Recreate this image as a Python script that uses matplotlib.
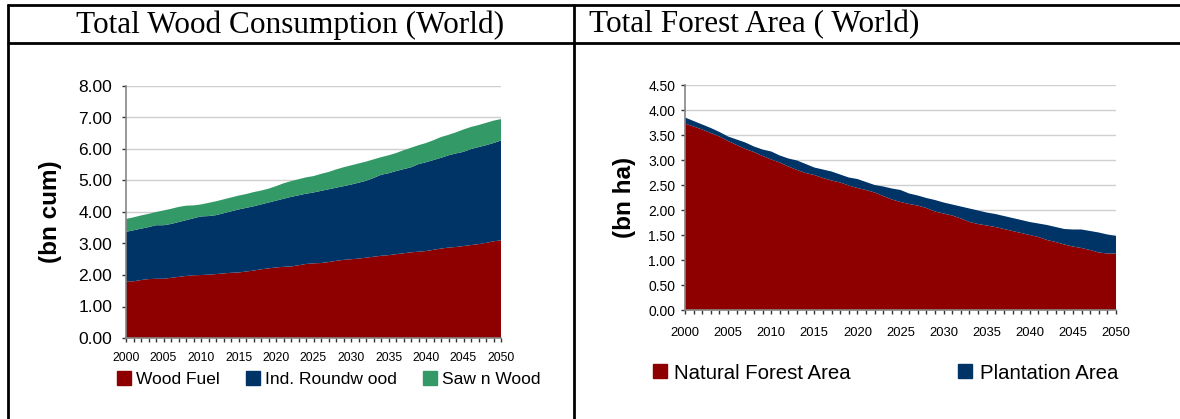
import matplotlib
matplotlib.use("Agg")
import matplotlib.pyplot as plt
from matplotlib.lines import Line2D
import numpy as np

years = list(range(2000, 2051))

# world wood consumption, bn cum
wood_fuel = [1.80, 1.80, 1.84, 1.87, 1.88, 1.88, 1.91, 1.94, 1.97, 1.99,
             2.00, 2.01, 2.03, 2.05, 2.07, 2.08, 2.11, 2.14, 2.18, 2.21,
             2.24, 2.26, 2.27, 2.31, 2.35, 2.37, 2.38, 2.41, 2.45, 2.48,
             2.50, 2.52, 2.55, 2.58, 2.61, 2.63, 2.66, 2.69, 2.72, 2.74,
             2.76, 2.80, 2.84, 2.87, 2.89, 2.92, 2.95, 2.98, 3.02, 3.07,
             3.10]
ind_roundwood = [1.57, 1.62, 1.63, 1.65, 1.70, 1.70, 1.71, 1.74, 1.77, 1.81,
                 1.86, 1.86, 1.87, 1.91, 1.95, 2.00, 2.02, 2.04, 2.06, 2.09,
                 2.12, 2.16, 2.21, 2.22, 2.23, 2.25, 2.29, 2.31, 2.32, 2.34,
                 2.37, 2.41, 2.44, 2.50, 2.57, 2.60, 2.64, 2.67, 2.70, 2.78,
                 2.82, 2.85, 2.88, 2.93, 2.97, 2.99, 3.05, 3.08, 3.10, 3.12,
                 3.17]
sawn_wood = [0.41, 0.41, 0.42, 0.42, 0.42, 0.47, 0.48, 0.48, 0.46, 0.41,
             0.38, 0.42, 0.44, 0.44, 0.44, 0.44, 0.44, 0.45, 0.44, 0.44,
             0.46, 0.49, 0.50, 0.51, 0.52, 0.52, 0.54, 0.55, 0.58, 0.60,
             0.61, 0.61, 0.61, 0.59, 0.56, 0.57, 0.57, 0.60, 0.62, 0.60,
             0.61, 0.63, 0.66, 0.65, 0.67, 0.71, 0.70, 0.70, 0.71, 0.71,
             0.68]

# world forest area, bn ha
natural_forest = [3.73, 3.67, 3.61, 3.54, 3.47, 3.38, 3.30, 3.22, 3.16, 3.08,
                  3.01, 2.95, 2.87, 2.80, 2.74, 2.70, 2.64, 2.59, 2.55, 2.49,
                  2.44, 2.40, 2.35, 2.28, 2.21, 2.16, 2.12, 2.09, 2.04, 1.97,
                  1.93, 1.89, 1.83, 1.76, 1.72, 1.69, 1.66, 1.62, 1.58, 1.54,
                  1.50, 1.46, 1.40, 1.36, 1.31, 1.27, 1.24, 1.20, 1.15, 1.13,
                  1.13]
plantation = [0.12, 0.11, 0.10, 0.10, 0.09, 0.09, 0.11, 0.13, 0.11, 0.13,
              0.16, 0.14, 0.16, 0.19, 0.18, 0.15, 0.17, 0.18, 0.16, 0.16,
              0.18, 0.16, 0.15, 0.19, 0.22, 0.24, 0.21, 0.20, 0.20, 0.23,
              0.22, 0.22, 0.24, 0.27, 0.27, 0.26, 0.26, 0.26, 0.26, 0.26,
              0.26, 0.27, 0.30, 0.30, 0.31, 0.34, 0.37, 0.38, 0.40, 0.38,
              0.35]

RED = "#8e0000"
BLUE = "#003366"
GREEN = "#339966"
AXIS_GREY = "#868686"
GRID_GREY = "#cfcfcf"

W, H = 1180, 419
fig = plt.figure(figsize=(W / 100, H / 100), dpi=100)


def px_box(x0, y0, x1, y1):
    # pixel box (top-left origin) -> figure fraction rect
    return [x0 / W, 1 - y1 / H, (x1 - x0) / W, (y1 - y0) / H]


def style_axes(ax, ymax, ystep, ysize, xsize, xpad, ypad):
    ax.set_xlim(2000, 2050)
    ax.set_ylim(0, ymax)
    ax.set_yticks(np.arange(0, ymax + 0.001, ystep))
    ax.yaxis.set_major_formatter(matplotlib.ticker.FormatStrFormatter("%.2f"))
    ax.set_xticks(range(2000, 2051, 5))
    ax.set_xticks(range(2000, 2051), minor=True)
    ax.grid(axis="y", color=GRID_GREY, lw=1.0)
    ax.set_axisbelow(True)
    for s in ("top", "right"):
        ax.spines[s].set_visible(False)
    for s in ("left", "bottom"):
        ax.spines[s].set_color(AXIS_GREY)
        ax.spines[s].set_linewidth(1.2)
    ax.tick_params(axis="y", direction="out", length=3, width=1, color="#333333",
                   labelsize=ysize, pad=ypad)
    ax.tick_params(axis="x", which="both", direction="out", length=3, width=1,
                   color="#333333", labelsize=xsize, pad=xpad)
    for lab in ax.get_xticklabels() + ax.get_yticklabels():
        lab.set_fontfamily("Liberation Sans")


# left: wood consumption
ax1 = fig.add_axes(px_box(126, 86, 501, 338))
ax1.stackplot(years, wood_fuel, ind_roundwood, sawn_wood,
              colors=[RED, BLUE, GREEN], linewidth=0)
style_axes(ax1, 8, 1, 12.5, 8.8, 7, 7)
fig.text(51 / W, 1 - 212 / H, "(bn cum)", rotation=90, ha="center", va="center",
         fontsize=17.5, fontweight="bold", family="Liberation Sans")

h1 = [Line2D([], [], marker="s", ls="", color=c, markersize=10)
      for c in (RED, BLUE, GREEN)]
fig.legend(h1, ["Wood Fuel", "Ind. Roundw ood", "Saw n Wood"],
           loc="center left", bbox_to_anchor=(117 / W, 1 - 379 / H), ncol=3,
           frameon=False, borderpad=0, borderaxespad=0, handlelength=0.8,
           handletextpad=0.3, columnspacing=1.5,
           prop={"family": "Liberation Sans", "size": 12.5})

# right: forest area
ax2 = fig.add_axes(px_box(685, 85, 1116, 310))
ax2.stackplot(years, natural_forest, plantation, colors=[RED, BLUE], linewidth=0)
style_axes(ax2, 4.5, 0.5, 10, 9.4, 9, 4)
fig.text(624 / W, 1 - 197 / H, "(bn ha)", rotation=90, ha="center", va="center",
         fontsize=17.5, fontweight="bold", family="Liberation Sans")

h2 = [Line2D([], [], marker="s", ls="", color=c, markersize=10.5)
      for c in (RED, BLUE)]
fig.legend(h2, ["Natural Forest Area", "Plantation Area"],
           loc="center left", bbox_to_anchor=(652 / W, 1 - 373 / H), ncol=2,
           frameon=False, borderpad=0, borderaxespad=0, handlelength=0.8,
           handletextpad=0.3, columnspacing=5.2,
           prop={"family": "Liberation Sans", "size": 14.7})

# table frame around the two panels
frame = dict(color="black", lw=2.0, solid_capstyle="butt")
fig.add_artist(Line2D([7.5 / W, 7.5 / W], [0, 1 - 4.5 / H], **frame))
fig.add_artist(Line2D([574 / W, 574 / W], [0, 1 - 4.5 / H], **frame))
fig.add_artist(Line2D([6.5 / W, 1], [1 - 5.5 / H, 1 - 5.5 / H], **frame))
fig.add_artist(Line2D([6.5 / W, 1], [1 - 43 / H, 1 - 43 / H], **frame))

fig.text(290 / W, 1 - 25 / H, "Total Wood Consumption (World)", ha="center",
         va="center", fontsize=22.5, family="Liberation Serif")
fig.text(589 / W, 1 - 25 / H, "Total Forest Area ( World)", ha="left",
         va="center", fontsize=22.5, family="Liberation Serif")

fig.savefig("out.png", dpi=100)
